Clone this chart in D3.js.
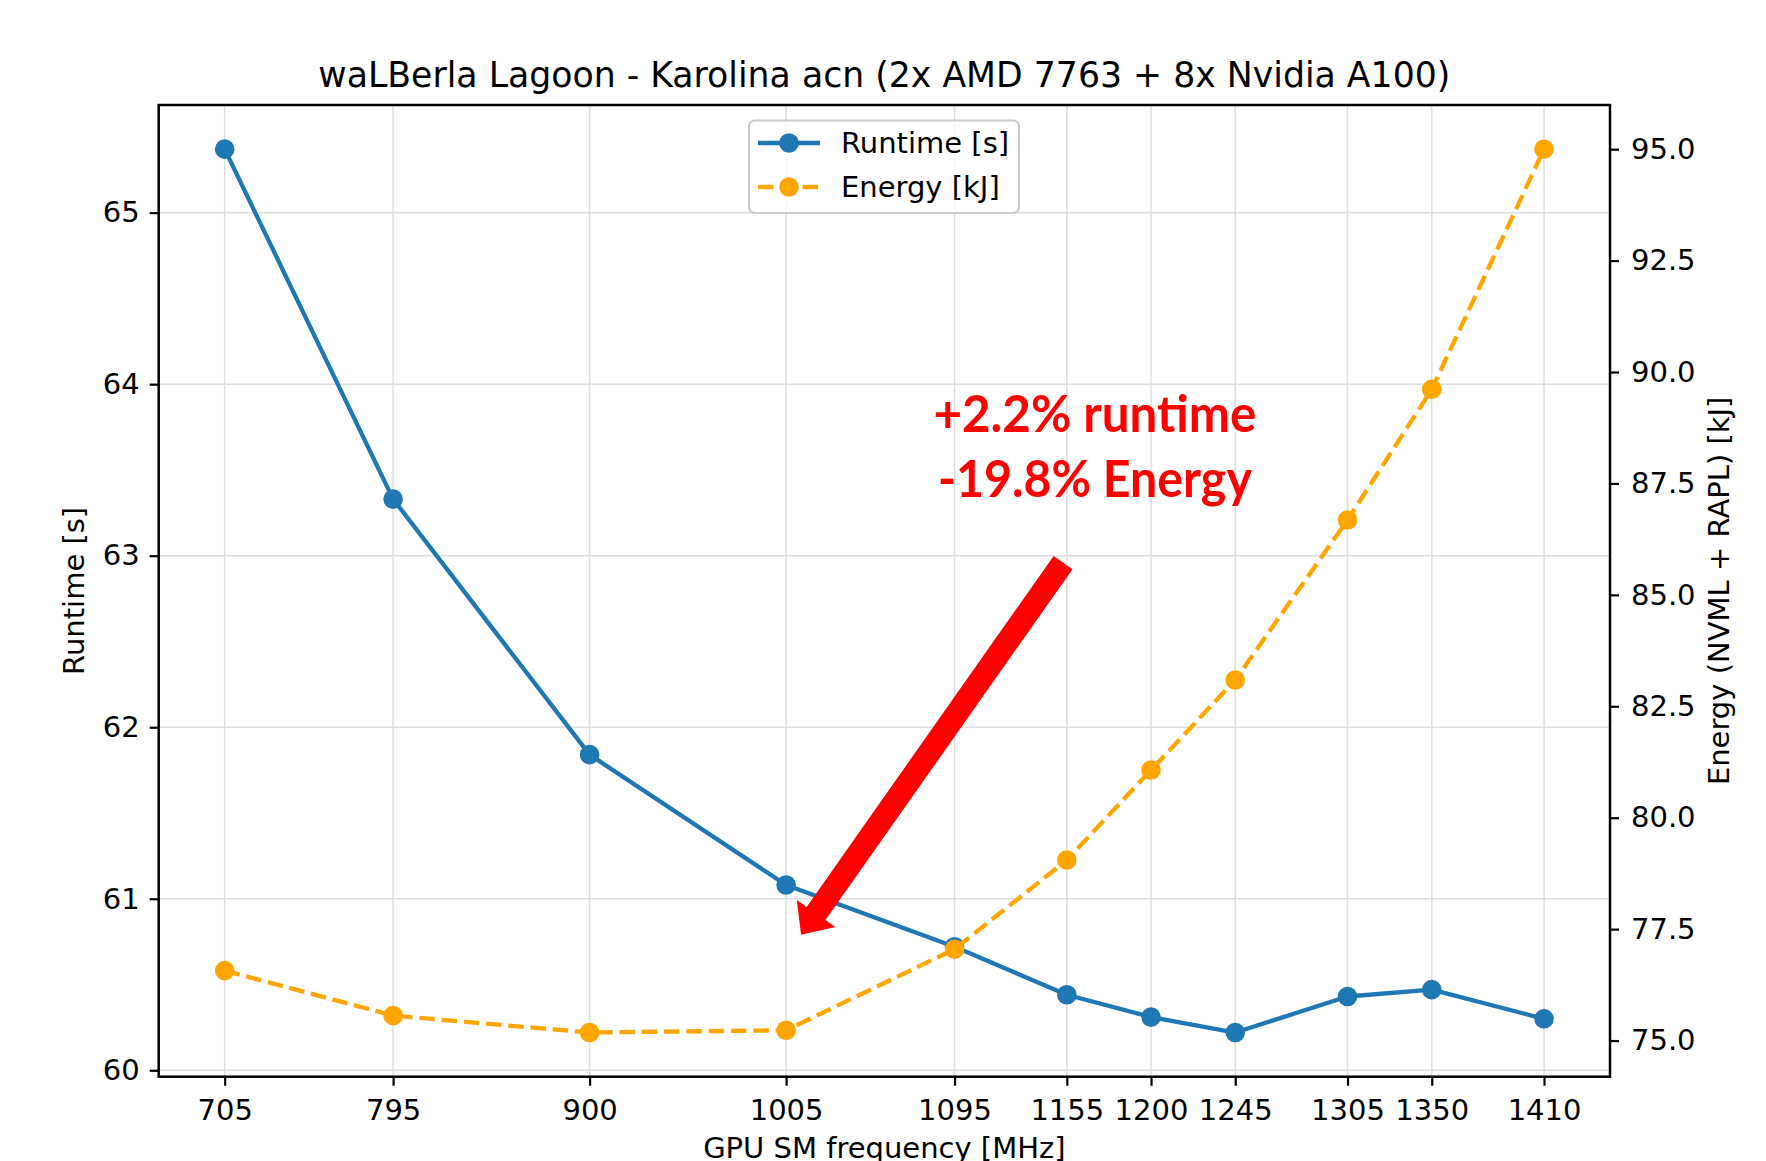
<!DOCTYPE html>
<html>
<head>
<meta charset="utf-8">
<script src="https://cdn.jsdelivr.net/npm/d3@7"></script>
<style>
  html, body { margin: 0; padding: 0; background: #fff; }
  svg { display: block; }
  text { font-family: "DejaVu Sans", sans-serif; }
</style>
</head>
<body>
<svg id="chart" width="1766" height="1161"></svg>
<script>
// ---- data ----
const frequencies = [705, 795, 900, 1005, 1095, 1155, 1200, 1245, 1305, 1350, 1410];
const runtime = [65.37, 63.33, 61.84, 61.08, 60.72, 60.44, 60.31, 60.22, 60.43, 60.47, 60.30];
const energy = [76.57, 75.56, 75.18, 75.23, 77.05, 79.05, 81.07, 83.09, 86.68, 89.61, 95.00];
const runtimeTicks = [60, 61, 62, 63, 64, 65];
const energyTicks = [75.0, 77.5, 80.0, 82.5, 85.0, 87.5, 90.0, 92.5, 95.0];
const seriesNames = ["Runtime [s]", "Energy [kJ]"];
const titleText = "waLBerla Lagoon - Karolina acn (2x AMD 7763 + 8x Nvidia A100)";
const xLabel = "GPU SM frequency [MHz]";
const yLabelLeft = "Runtime [s]";
const yLabelRight = "Energy (NVML + RAPL) [kJ]";
const noteLines = ["+2.2% runtime", "-19.8% Energy"];
// annotation anchor positions in data units (x: MHz, y: runtime)
const noteX = 1170;
const noteY = [63.72, 63.345];
const arrowFrom = [1153, 62.96];
const arrowTo = [1013, 60.79];

// ---- layout ----
const W = 1766, H = 1161;
const L = 158.7, R = 1610, T = 105, B = 1076.7;
const blue = "#1f77b4", orange = "#FFA500";

function padDomain(vals) {
  const lo = d3.min(vals), hi = d3.max(vals), m = (hi - lo) * 0.05;
  return [lo - m, hi + m];
}

const x = d3.scaleLinear().domain(padDomain(frequencies)).range([L, R]);
const yL = d3.scaleLinear().domain(padDomain(runtime)).range([B, T]);
const yR = d3.scaleLinear().domain(padDomain(energy)).range([B, T]);

const svg = d3.select("#chart");
svg.append("rect").attr("width", W).attr("height", H).attr("fill", "#fff");

// grid
const grid = svg.append("g");
grid.selectAll("line.gx").data(frequencies).enter().append("line")
  .attr("x1", d => x(d)).attr("x2", d => x(d)).attr("y1", T).attr("y2", B)
  .attr("stroke", "#dedede").attr("stroke-width", 1.5);
grid.selectAll("line.gy").data(runtimeTicks).enter().append("line")
  .attr("x1", L).attr("x2", R).attr("y1", d => yL(d)).attr("y2", d => yL(d))
  .attr("stroke", "#dedede").attr("stroke-width", 1.5);

// axes
const fs = 29;
const xAxis = svg.append("g").attr("transform", `translate(0,${B})`)
  .call(d3.axisBottom(x).tickValues(frequencies).tickFormat(d3.format("d")).tickSize(9).tickPadding(12));
const yAxisL = svg.append("g").attr("transform", `translate(${L},0)`)
  .call(d3.axisLeft(yL).tickValues(runtimeTicks).tickFormat(d3.format("d")).tickSize(9).tickPadding(10));
const yAxisR = svg.append("g").attr("transform", `translate(${R},0)`)
  .call(d3.axisRight(yR).tickValues(energyTicks).tickFormat(d3.format(".1f")).tickSize(9).tickPadding(12));
[xAxis, yAxisL, yAxisR].forEach(g => {
  g.select(".domain").remove();
  g.selectAll(".tick line").attr("stroke", "#000").attr("stroke-width", 2.2);
  g.selectAll(".tick text").attr("font-family", "DejaVu Sans").attr("font-size", fs).style("fill", "#000");
});
xAxis.selectAll(".tick text").attr("dy", "0.76em");

// lines
const lineL = d3.line().x((d, i) => x(frequencies[i])).y(d => yL(d));
const lineR = d3.line().x((d, i) => x(frequencies[i])).y(d => yR(d));

svg.append("path").datum(runtime).attr("d", lineL)
  .attr("fill", "none").attr("stroke", blue).attr("stroke-width", 4.3).attr("stroke-linejoin", "round");
svg.selectAll("circle.rt").data(runtime).enter().append("circle")
  .attr("cx", (d, i) => x(frequencies[i])).attr("cy", d => yL(d)).attr("r", 9.8).attr("fill", blue);

svg.append("path").datum(energy).attr("d", lineR)
  .attr("fill", "none").attr("stroke", orange).attr("stroke-width", 4.3)
  .attr("stroke-dasharray", "15.5,6.8");
svg.selectAll("circle.en").data(energy).enter().append("circle")
  .attr("cx", (d, i) => x(frequencies[i])).attr("cy", d => yR(d)).attr("r", 9.8).attr("fill", orange);

// frame
svg.append("rect").attr("x", L).attr("y", T).attr("width", R - L).attr("height", B - T)
  .attr("fill", "none").attr("stroke", "#000").attr("stroke-width", 2.5);

// title & labels
svg.append("text").attr("x", (L + R) / 2).attr("y", 87).attr("text-anchor", "middle")
  .attr("font-size", 34.7).style("fill", "#000").text(titleText);
svg.append("text").attr("x", (L + R) / 2).attr("y", 1158).attr("text-anchor", "middle")
  .attr("font-size", fs).style("fill", "#000").text(xLabel);
svg.append("text").attr("transform", `translate(84,${(T + B) / 2}) rotate(-90)`)
  .attr("text-anchor", "middle").attr("font-size", fs).style("fill", "#000").text(yLabelLeft);
svg.append("text").attr("transform", `translate(1729,${(T + B) / 2}) rotate(-90)`)
  .attr("text-anchor", "middle").attr("font-size", fs).style("fill", "#000").text(yLabelRight);

// legend
const lg = svg.append("g");
lg.append("rect").attr("x", 749).attr("y", 120.5).attr("width", 270).attr("height", 92.5)
  .attr("rx", 6).attr("fill", "#fff").attr("fill-opacity", 0.8)
  .attr("stroke", "#cccccc").attr("stroke-width", 2);
const legendItems = [
  { name: seriesNames[0], color: blue, dash: null, y: 143 },
  { name: seriesNames[1], color: orange, dash: "15.5,6.8", y: 187 }
];
legendItems.forEach(it => {
  lg.append("line").attr("x1", 758).attr("x2", 820).attr("y1", it.y).attr("y2", it.y)
    .attr("stroke", it.color).attr("stroke-width", 4.3)
    .attr("stroke-dasharray", it.dash);
  lg.append("circle").attr("cx", 789).attr("cy", it.y).attr("r", 9.8).attr("fill", it.color);
  lg.append("text").attr("x", 841).attr("y", it.y).attr("dy", "0.36em")
    .attr("font-size", fs).style("fill", "#000").text(it.name);
});

// annotation arrow (thick shaft with head)
(function () {
  const x0 = x(arrowFrom[0]), y0 = yL(arrowFrom[1]);
  const x1 = x(arrowTo[0]), y1 = yL(arrowTo[1]);
  const dx = x1 - x0, dy = y1 - y0, len = Math.hypot(dx, dy);
  const ux = dx / len, uy = dy / len, px = -uy, py = ux;
  const sw = 11.5, hw = 23.5, hl = 26;
  const bx = x1 - ux * hl, by = y1 - uy * hl;
  const pts = [
    [x0 + px * sw, y0 + py * sw],
    [bx + px * sw, by + py * sw],
    [bx + px * hw, by + py * hw],
    [x1, y1],
    [bx - px * hw, by - py * hw],
    [bx - px * sw, by - py * sw],
    [x0 - px * sw, y0 - py * sw]
  ];
  svg.append("path").attr("d", "M" + pts.map(p => p.join(",")).join("L") + "Z")
    .attr("fill", "#ff0000");
})();

const noteWidths = [323, 314];
noteLines.forEach((t, i) => {
  svg.append("text").attr("x", x(noteX)).attr("y", yL(noteY[i]))
    .attr("text-anchor", "middle")
    .style("font-family", "Lato, 'Open Sans', sans-serif")
    .style("fill", "#ff0000")
    .attr("font-weight", "bold").attr("font-size", 52)
    .attr("textLength", noteWidths[i]).attr("lengthAdjust", "spacingAndGlyphs")
    .text(t);
});
</script>
</body>
</html>
